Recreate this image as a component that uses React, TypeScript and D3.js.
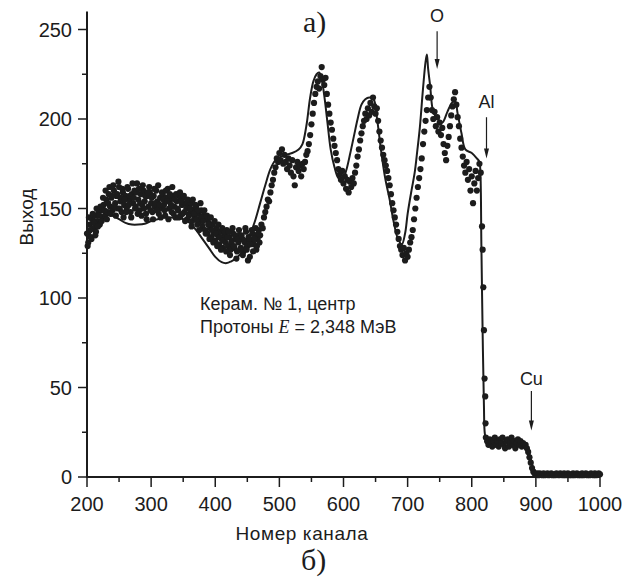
import React from 'react';
import * as d3 from 'd3';

// ---- data ----
const xTicks = [200, 300, 400, 500, 600, 700, 800, 900, 1000];
const xMinorTicks = [250, 350, 450, 550, 650, 750, 850, 950];
const yTicks = [0, 50, 100, 150, 200, 250];
const yMinorTicks = [25, 75, 125, 175, 225];

// experimental points: channel = 200 + 2*i
const dotStartChannel = 200;
const dotStep = 2;
const dotYields = [
  136, 131, 141, 134, 144, 139, 146, 137, 143, 148,
  141, 149, 145, 152, 146, 155, 148, 158, 151, 156,
  149, 160, 153, 157, 150, 162, 154, 148, 159, 152,
  157, 150, 161, 155, 148, 158, 153, 160, 151, 164,
  155, 149, 158, 152, 160, 154, 147, 157, 151, 159,
  153, 148, 157, 151, 160, 154, 147, 156, 150, 158,
  152, 146, 156, 161, 150, 155, 148, 157, 151, 145,
  154, 149, 157, 146, 152, 156, 148, 153, 144, 151,
  147, 153, 143, 149, 145, 151, 141, 147, 143, 149,
  140, 146, 138, 144, 136, 142, 139, 134, 141, 136,
  132, 139, 135, 130, 137, 133, 128, 135, 131, 138,
  129, 134, 127, 132, 136, 128, 133, 126, 131, 135,
  128, 133, 126, 131, 137, 129, 134, 123, 131, 136,
  130, 135, 127, 133, 138, 135, 141, 139, 145, 148,
  151, 155, 154, 159, 163, 166, 170, 173, 178, 176,
  181, 177, 183, 175, 180, 176, 172, 178, 174, 170,
  177, 168, 163, 173, 176, 171, 174, 168, 175, 172,
  176, 180, 182, 186, 191, 197, 203, 209, 214, 218,
  221, 217, 224, 229, 222, 219, 223, 214, 208, 203,
  198, 194, 189, 185, 181, 177, 172, 169, 166, 171,
  164, 168, 161, 166, 159, 165, 162, 167, 164, 170,
  174, 179, 183, 188, 192, 196, 199, 203, 200, 206,
  202, 209, 204, 212, 207, 203, 206, 199, 193, 188,
  184, 180, 177, 174, 171, 167, 163, 158, 153, 149,
  145, 141, 137, 133, 129, 127, 124, 128, 121, 125,
  123, 127, 131, 134, 138, 144, 150, 156, 162, 167,
  172, 178, 186, 193, 199, 205, 212, 218, 212, 205,
  200, 204, 196, 201, 193, 198, 191, 195, 186, 181,
  177, 185, 190, 196, 202, 207, 211, 215, 208, 201,
  196, 189, 184, 179, 174, 170, 176, 166, 172, 160,
  168, 153, 164, 171, 160, 167, 175, 170, 140, 106,
  55, 22, 20, 18, 21, 19, 17, 20, 22, 18,
  20, 17, 21, 19, 22, 18, 16, 20, 21, 17,
  19, 22, 18, 20, 16, 19, 21, 18, 20, 17,
  19, 18, 18, 16, 14, 11, 8, 5, 3, 2,
  1.5, 2, 1, 2, 1.5, 1, 2, 1, 1.5, 2,
  1, 1.5, 2, 1, 1.5, 1, 2, 1.5, 1, 2,
  1.5, 1, 2, 1, 1.5, 2, 1, 1.5, 1, 2,
  1, 1.5, 2, 1, 1.5, 1, 2, 1, 1.5, 2,
  1, 1.5, 1, 2, 1.5, 1, 2, 1, 1.5, 2,
  1.5,
];
// odd channels of the low-energy plateau: channel = 201 + 2*i
const oddDotStartChannel = 201;
const oddDotYields = [
  129, 145, 138, 133, 147, 142, 135, 150, 140, 146,
  151, 143, 156, 149, 160, 144, 153, 162, 147, 157,
  163, 151, 146, 158, 165, 150, 156, 161, 145, 155,
  148, 162, 152, 157, 145, 164, 156, 150, 159, 147,
  161, 153, 146, 163, 150, 157, 144, 159, 162, 149,
  156, 144, 161, 153, 149, 163, 152, 145, 159, 155,
  149, 160, 154, 144, 158, 152, 162, 147, 155, 158,
  150, 145, 159, 154, 147, 157, 143, 150, 155, 146,
  150, 140, 155, 147, 152, 144, 149, 138, 153, 145,
  143, 149, 136, 146, 141, 133, 145, 138, 131, 143,
  136, 129, 141, 134, 127, 139, 132, 137, 126, 134,
  137, 124, 131, 139, 129, 135, 122, 133, 138, 127,
  135, 124, 132, 139, 127, 121, 133, 130, 138, 126,
  133, 139, 129, 136, 131,
];
// extra points on the Al edge
const edgeDotChannels = [817, 819, 821, 821.5];
const edgeDotYields = [127, 82, 45, 30];

// simulated spectrum
const simChannels = [
  200, 210, 220, 230, 240, 250, 260, 270, 280, 290, 300, 310, 320, 330, 340, 350,
  360, 370, 380, 390, 400, 410, 418, 425, 432, 440, 448, 455, 462, 470, 478, 486,
  494, 502, 510, 520, 530, 536, 542, 548, 553, 558, 562, 566, 570, 575, 580, 586,
  592, 598, 604, 610, 616, 622, 628, 634, 640, 647, 652, 658, 665, 672, 678, 685,
  691, 696, 700, 706, 711, 715, 719, 724, 728, 730, 732, 735, 740, 747, 754, 762,
  769, 774, 778, 784, 790, 800, 808, 812, 813.5, 815, 817, 819, 820.5, 823, 830,
  840, 850, 860, 870, 880, 885, 890, 895, 899, 905, 920, 1000,
];
const simYields = [
  133, 139, 143, 146, 146, 144, 142, 141, 141, 141.5, 143, 144, 145, 145, 145, 144,
  142, 138, 133, 128, 123, 120, 119.5, 120.5, 122, 125, 130, 136, 143, 153, 163, 172,
  177, 179, 180, 181, 183, 186, 196, 212, 221, 225, 226, 222, 213, 198, 183, 173,
  167, 166, 171, 180, 190, 200, 208, 211, 212, 211, 201, 184, 167, 155, 143, 133,
  130, 136, 147, 160, 170, 182, 195, 217, 232, 236, 228, 219, 204, 200, 198, 204,
  209, 210, 203, 192, 183, 181, 178, 176, 170, 130, 80, 40, 24, 21, 20,
  20, 20, 20, 20, 19, 18, 13, 6, 3, 2, 1.5, 1.5,
];

const elementLabels = ['O', 'Al', 'Cu'];
const elementChannels = [746, 823, 893];
const elementLabelYields = [258, 210, 55];
const elementArrowTop = [249, 201, 48];
const elementArrowBottom = [228, 178, 26];

const noteLine1 = 'Керам. № 1, центр';
const xLabel = 'Номер канала';
const yLabel = 'Выход';

const SANS = '"Liberation Sans", Arial, Helvetica, sans-serif';
const SERIF = '"Liberation Serif", "Times New Roman", serif';
const INK = '#1c1c1c';

export default function App() {
  const x = d3.scaleLinear().domain([200, 1000]).range([87, 600]);
  const y = d3.scaleLinear().domain([0, 260]).range([477, 11.6]);

  const dots: [number, number][] = dotYields.map((v, i) => [dotStartChannel + i * dotStep, v]);
  oddDotYields.forEach((v, i) => dots.push([oddDotStartChannel + i * dotStep, v]));
  edgeDotChannels.forEach((c, i) => dots.push([c, edgeDotYields[i]]));

  const simPts: [number, number][] = simChannels.map((c, i) => [c, simYields[i]]);
  const line = d3
    .line<[number, number]>()
    .x((d) => x(d[0]))
    .y((d) => y(d[1]))
    .curve(d3.curveCatmullRom.alpha(0.5));

  const x0 = x(200);
  const y0 = y(0);

  return (
    <div style={{ position: 'absolute', left: 0, top: 0 }}>
      <svg width={628} height={581} viewBox="0 0 628 581" style={{ display: 'block', background: '#fff' }}>
        {/* simulated line */}
        <path d={line(simPts) || ''} fill="none" stroke={INK} strokeWidth={2} />

        {/* experimental points */}
        <g fill={INK}>
          {dots.map((d, i) => (
            <circle key={i} cx={x(d[0])} cy={y(d[1])} r={3.1} />
          ))}
        </g>

        {/* axes */}
        <line x1={x0} x2={x0} y1={y(260)} y2={y0 + 1} stroke={INK} strokeWidth={2} />
        <line x1={x0 - 1} x2={x(1000)} y1={y0} y2={y0} stroke={INK} strokeWidth={2} />
        {yTicks.map((t) => (
          <g key={'yt' + t}>
            <line x1={x0 - 9} x2={x0} y1={y(t)} y2={y(t)} stroke={INK} strokeWidth={1.5} />
            <text x={72} y={y(t)} dy="0.36em" textAnchor="end" fontFamily={SANS} fontSize={20} fill={INK}>
              {t}
            </text>
          </g>
        ))}
        {yMinorTicks.map((t) => (
          <line key={'ym' + t} x1={x0 - 5} x2={x0} y1={y(t)} y2={y(t)} stroke={INK} strokeWidth={1.5} />
        ))}
        {xTicks.map((t) => (
          <g key={'xt' + t}>
            <line x1={x(t)} x2={x(t)} y1={y0} y2={y0 + 10} stroke={INK} strokeWidth={1.5} />
            <text x={x(t)} y={511} textAnchor="middle" fontFamily={SANS} fontSize={20} fill={INK}>
              {t}
            </text>
          </g>
        ))}
        {xMinorTicks.map((t) => (
          <line key={'xm' + t} x1={x(t)} x2={x(t)} y1={y0} y2={y0 + 5} stroke={INK} strokeWidth={1.5} />
        ))}

        {/* axis labels */}
        <text x={302} y={540} textAnchor="middle" fontFamily={SANS} fontSize={19} letterSpacing={0.6} fill={INK}>
          {xLabel}
        </text>
        <text transform="translate(33,217) rotate(-90)" textAnchor="middle" fontFamily={SANS} fontSize={19} fill={INK}>
          {yLabel}
        </text>

        {/* panel labels */}
        <text x={303} y={32} fontFamily={SERIF} fontSize={30} fill={INK}>а)</text>
        <text x={301} y={570} fontFamily={SERIF} fontSize={30} fill={INK}>б)</text>

        {/* note */}
        <text x={200} y={310} fontFamily={SANS} fontSize={18} fill={INK}>{noteLine1}</text>
        <text x={200} y={333} fontFamily={SANS} fontSize={18} fill={INK}>
          Протоны <tspan fontFamily={SERIF} fontStyle="italic">E</tspan> = 2,348 МэВ
        </text>

        {/* element markers */}
        {elementLabels.map((lab, i) => {
          const ax = x(elementChannels[i]);
          const yt = y(elementArrowTop[i]);
          const yb = y(elementArrowBottom[i]);
          return (
            <g key={lab}>
              <text x={ax} y={y(elementLabelYields[i])} dy="0.36em" textAnchor="middle" fontFamily={SANS} fontSize={18} fill={INK}>
                {lab}
              </text>
              <line x1={ax} x2={ax} y1={yt} y2={yb - 6} stroke={INK} strokeWidth={1.2} />
              <path d={`M${ax - 2.5},${yb - 10} L${ax + 2.5},${yb - 10} L${ax},${yb} Z`} fill={INK} />
            </g>
          );
        })}
      </svg>
    </div>
  );
}
